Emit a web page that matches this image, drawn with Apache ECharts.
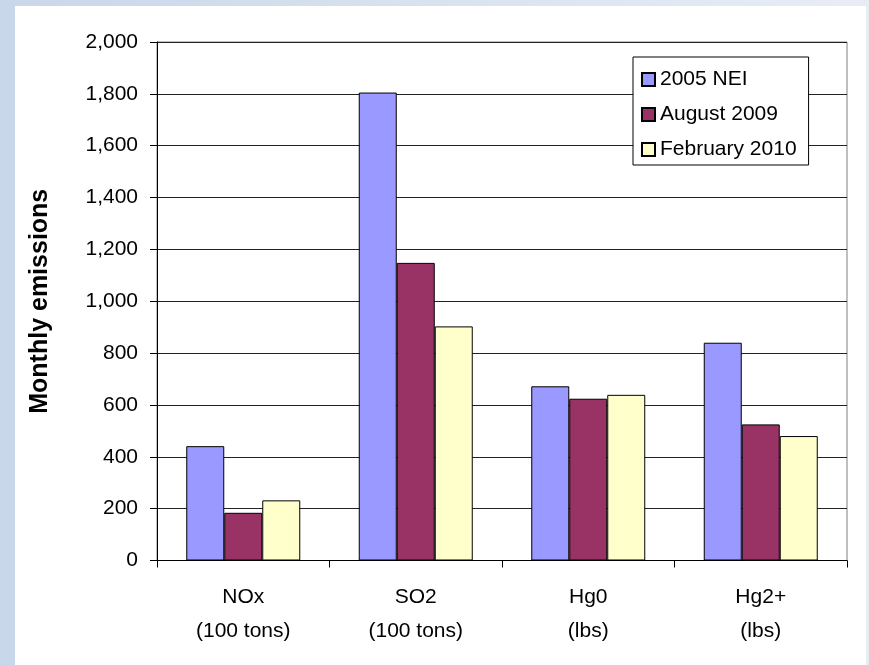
<!DOCTYPE html>
<html>
<head>
<meta charset="utf-8">
<script src="https://cdn.jsdelivr.net/npm/echarts@6/dist/echarts.min.js"></script>
<style>
html,body{margin:0;padding:0;}
#c{width:869px;height:665px;}
</style>
</head>
<body>
<div id="c"></div>
<script>
const categories = ['NOx\n(100 tons)', 'SO2\n(100 tons)', 'Hg0\n(lbs)', 'Hg2+\n(lbs)'];
const nei2005 = [441, 1805, 672, 840];
const aug2009 = [184, 1148, 624, 525];
const feb2010 = [232, 903, 639, 480];
const seriesNames = ['2005 NEI', 'August 2009', 'February 2010'];
const seriesColors = ['#9999FF', '#993366', '#FFFFCC'];
const yTicks = { min: 0, max: 2000, interval: 200 };

const FONT = '"Liberation Sans", Arial, sans-serif';
const chart = echarts.init(document.getElementById('c'), null, { renderer: 'canvas' });
const values = [nei2005, aug2009, feb2010];
chart.setOption({
  animation: false,
  backgroundColor: {
    type: 'linear', x: 0, y: 0, x2: 1, y2: 0,
    colorStops: [{ offset: 0, color: '#c9d7ea' }, { offset: 1, color: '#e8edf5' }]
  },
  graphic: [{
    type: 'rect', z: -10, silent: true,
    shape: { x: 15, y: 6, width: 851, height: 665 },
    style: { fill: '#ffffff' }
  }],
  textStyle: { fontFamily: FONT },
  grid: {
    left: 157, right: 22, top: 42, bottom: 104.5,
    show: true, borderColor: '#808080', borderWidth: 1, backgroundColor: 'transparent'
  },
  legend: {
    orient: 'vertical',
    left: 633, top: 57,
    padding: [12, 12, 5, 8],
    itemGap: 14,
    itemWidth: 13, itemHeight: 13,
    icon: 'rect',
    backgroundColor: '#ffffff',
    borderColor: '#000000', borderWidth: 1,
    textStyle: { fontFamily: FONT, fontSize: 21, color: '#000', lineHeight: 20 },
    data: seriesNames
  },
  xAxis: {
    type: 'category',
    data: categories,
    axisLine: { lineStyle: { color: '#000', width: 1 } },
    axisTick: { show: true, length: 7, lineStyle: { color: '#000' } },
    axisLabel: { color: '#000', fontSize: 21, fontFamily: FONT, lineHeight: 34, margin: 20, interval: 0 }
  },
  yAxis: {
    type: 'value',
    min: yTicks.min, max: yTicks.max, interval: yTicks.interval,
    name: 'Monthly emissions',
    nameLocation: 'middle',
    nameGap: 104,
    nameTextStyle: { fontFamily: FONT, fontSize: 25, fontWeight: 'bold', color: '#000' },
    axisLine: { show: true, lineStyle: { color: '#000', width: 1 } },
    axisTick: { show: true, length: 7, lineStyle: { color: '#000' } },
    axisLabel: {
      color: '#000', fontSize: 21, fontFamily: FONT, margin: 19,
      formatter: v => v.toLocaleString('en-US')
    },
    splitLine: { show: true, lineStyle: { color: '#222', width: 1 } }
  },
  series: seriesNames.map((n, i) => ({
    name: n,
    type: 'bar',
    data: values[i],
    barWidth: 38,
    barGap: '0%',
    itemStyle: { color: seriesColors[i], borderColor: '#000', borderWidth: 1 }
  }))
});
</script>
</body>
</html>
